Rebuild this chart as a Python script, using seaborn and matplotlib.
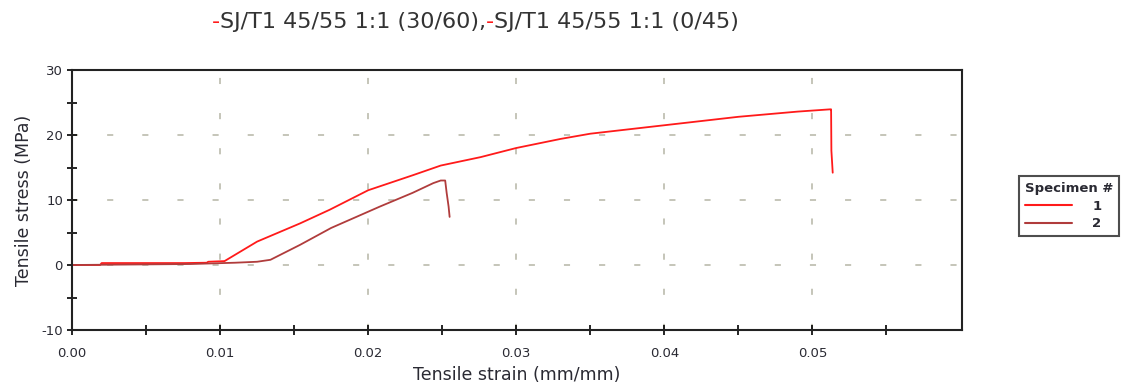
import matplotlib
matplotlib.use("Agg")
import matplotlib.pyplot as plt
import seaborn as sns
import pandas as pd
from matplotlib.ticker import FixedLocator, FormatStrFormatter, MultipleLocator

# Specimen 1 (30/60 layup)
strain1 = [0.0, 0.0019, 0.0020, 0.0076, 0.0091, 0.0092, 0.0103, 0.0125, 0.0154,
           0.0174, 0.0200, 0.0230, 0.0249, 0.0276, 0.0300, 0.0330, 0.0350,
           0.0400, 0.0450, 0.0490, 0.0512, 0.05126, 0.05128, 0.05137]
stress1 = [0.0, 0.0, 0.3, 0.3, 0.35, 0.5, 0.6, 3.6, 6.4,
           8.5, 11.5, 13.8, 15.3, 16.6, 18.0, 19.4, 20.2,
           21.5, 22.8, 23.6, 23.95, 23.95, 17.6, 14.2]

# Specimen 2 (0/45 layup)
strain2 = [0.0, 0.0080, 0.0110, 0.0125, 0.0134, 0.0154, 0.0175, 0.0200, 0.0208,
           0.0230, 0.0244, 0.0249, 0.0252, 0.0253, 0.02543, 0.0255]
stress2 = [0.0, 0.15, 0.35, 0.5, 0.8, 3.1, 5.7, 8.2, 9.0,
           11.1, 12.6, 13.0, 13.0, 11.1, 9.0, 7.4]

specimens = ["1", "2"]
title_parts = ["SJ/T1 45/55 1:1 (30/60),", "SJ/T1 45/55 1:1 (0/45)"]
x_major = [0.00, 0.01, 0.02, 0.03, 0.04, 0.05]
x_minor = [0.005, 0.015, 0.025, 0.035, 0.045, 0.055]

df = pd.concat([
    pd.DataFrame({"strain": strain1, "stress": stress1, "Specimen #": specimens[0]}),
    pd.DataFrame({"strain": strain2, "stress": stress2, "Specimen #": specimens[1]}),
], ignore_index=True)

sns.set_style("white")
plt.rcParams["font.family"] = ["DejaVu Sans"]
plt.rcParams["axes.unicode_minus"] = False

colors = {"1": "#ff1a1a", "2": "#b03c3c"}
text_color = "#2a2a33"

fig = plt.figure(figsize=(11.23, 3.87), dpi=100)
ax = fig.add_axes([72 / 1123, 57 / 387, 890 / 1123, 260 / 387])

sns.lineplot(data=df, x="strain", y="stress", hue="Specimen #", palette=colors,
             sort=False, estimator=None, linewidth=1.3, ax=ax, legend=False)

ax.set_xlim(0, 0.0601)
ax.set_ylim(-10, 30)
ax.xaxis.set_major_locator(FixedLocator(x_major))
ax.xaxis.set_minor_locator(FixedLocator(x_minor))
ax.yaxis.set_major_locator(MultipleLocator(10))
ax.yaxis.set_minor_locator(MultipleLocator(5))
ax.xaxis.set_major_formatter(FormatStrFormatter("%.2f"))

ax.grid(True, which="major", color="#b5b5a5", linestyle=(0, (4, 19)), linewidth=1.1)
ax.tick_params(which="both", direction="inout", length=7, width=1.2, color="black",
               labelsize=9.5, labelcolor=text_color, bottom=True, left=True)
ax.tick_params(axis="x", pad=9)
ax.tick_params(axis="y", pad=3)
for s in ax.spines.values():
    s.set_color("#222222")
    s.set_linewidth(1.5)

ax.set_xlabel("Tensile strain (mm/mm)", fontsize=12.5, color=text_color, labelpad=4)
ax.set_ylabel("Tensile stress (MPa)", fontsize=12.5, color=text_color, labelpad=6)

# Legend
handles = [plt.Line2D([], [], color=colors[k], linewidth=1.5) for k in specimens]
leg = fig.legend(handles, specimens, title="Specimen #", loc="upper left",
                 bbox_to_anchor=(1019 / 1123, 1 - 176 / 387), fontsize=9.5,
                 title_fontsize=9.5, handlelength=3.6, frameon=True, fancybox=False,
                 borderpad=0.45, labelspacing=0.35, handletextpad=1.5, borderaxespad=0)
leg.get_frame().set_edgecolor("#222222")
leg.get_frame().set_linewidth(1.5)
leg.get_title().set_fontweight("bold")
leg.get_title().set_color(text_color)
for t in leg.get_texts():
    t.set_fontweight("bold")
    t.set_color(text_color)
leg._legend_box.align = "left"

# Title made of coloured pieces
fig.canvas.draw()
renderer = fig.canvas.get_renderer()
x = 212 / 1123
y = 1 - 22 / 387
for part in title_parts:
    dash = fig.text(x, y, "-", color="#ff1a1a", fontsize=16, va="center", ha="left")
    bb = dash.get_window_extent(renderer)
    x += bb.width / fig.bbox.width
    t = fig.text(x, y, part, color="#333333", fontsize=16, va="center", ha="left")
    bb = t.get_window_extent(renderer)
    x += bb.width / fig.bbox.width

fig.savefig("out.png", dpi=100)
